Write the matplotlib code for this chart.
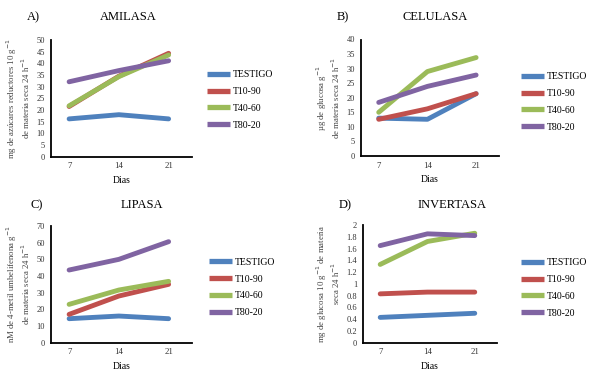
import matplotlib
matplotlib.use("Agg")
import matplotlib.pyplot as plt

plt.rcParams['font.family'] = ['Liberation Serif', 'DejaVu Serif']

days = ["7", "14", "21"]
series_names = ["TESTIGO", "T10-90", "T40-60", "T80-20"]
colors = ["#4F81BD", "#C0504D", "#9BBB59", "#8064A2"]

amilasa = {
    "TESTIGO": [16.2, 18.0, 16.2],
    "T10-90": [21.5, 34.5, 44.3],
    "T40-60": [21.8, 34.3, 43.6],
    "T80-20": [32.1, 36.9, 41.1],
}
celulasa = {
    "TESTIGO": [13.0, 12.6, 21.4],
    "T10-90": [12.6, 16.2, 21.4],
    "T40-60": [15.0, 29.0, 33.8],
    "T80-20": [18.4, 23.9, 27.8],
}
lipasa = {
    "TESTIGO": [14.4, 16.0, 14.4],
    "T10-90": [17.0, 28.0, 35.0],
    "T40-60": [23.0, 31.6, 36.8],
    "T80-20": [43.6, 50.0, 60.6],
}
invertasa = {
    "TESTIGO": [0.43, 0.465, 0.50],
    "T10-90": [0.83, 0.86, 0.86],
    "T40-60": [1.33, 1.72, 1.86],
    "T80-20": [1.65, 1.85, 1.82],
}

W, H = 594, 376
fig = plt.figure(figsize=(W / 100, H / 100), dpi=100)


def px_axes(left, top, right, bottom):
    return fig.add_axes([left / W, (H - bottom) / H, (right - left) / W, (bottom - top) / H])


panels = [
    dict(data=amilasa, box=(50.7, 40, 192, 156.7), ymax=50, step=5, fmt="{:g}",
         title="AMILASA", tx=128, ty=17, letter="A)", lx=33,
         ylabel="mg de azúcares reductores 10 g$^{-1}$\nde materia seca 24 h$^{-1}$",
         leg=(207, 100)),
    dict(data=celulasa, box=(360.7, 39.5, 499, 156), ymax=40, step=5, fmt="{:g}",
         title="CELULASA", tx=435, ty=17, letter="B)", lx=343,
         ylabel="µg de glucosa g$^{-1}$\nde materia seca 24 h$^{-1}$",
         leg=(521, 102)),
    dict(data=lipasa, box=(50.7, 226, 192, 342.7), ymax=70, step=10, fmt="{:g}",
         title="LIPASA", tx=142, ty=205, letter="C)", lx=37,
         ylabel="nM de 4-metil umbelifenona g$^{-1}$\nde materia seca 24 h$^{-1}$",
         leg=(209, 287.5)),
    dict(data=invertasa, box=(362.7, 225, 497, 342.7), ymax=2, step=0.2, fmt="{:g}",
         title="INVERTASA", tx=452, ty=205, letter="D)", lx=345,
         ylabel="mg de glucosa 10 g$^{-1}$ de materia\nseca 24 h$^{-1}$",
         leg=(521, 288)),
]

for p in panels:
    ax = px_axes(*p["box"])
    x = list(range(len(days)))
    for name, c in zip(series_names, colors):
        ax.plot(x, p["data"][name], color=c, lw=3.5, solid_capstyle='round',
                solid_joinstyle='round', label=name)
    ax.set_xlim(-0.37, 2.47)
    ax.set_ylim(0, p["ymax"])
    n = int(round(p["ymax"] / p["step"]))
    yt = [round(i * p["step"], 2) for i in range(n + 1)]
    ax.set_yticks(yt)
    ax.set_yticklabels([p["fmt"].format(v) for v in yt], fontsize=6, color="#333333")
    ax.set_xticks(x)
    ax.set_xticklabels(days, fontsize=6.3, color="#333333")
    ax.tick_params(length=0, pad=4)
    for s in ["top", "right"]:
        ax.spines[s].set_visible(False)
    for s in ["left", "bottom"]:
        ax.spines[s].set_linewidth(1.3)
        ax.spines[s].set_color("black")
    ax.set_xlabel("Dias", fontsize=7, labelpad=4)
    ax.set_ylabel(p["ylabel"], fontsize=6.3, color="#444444", labelpad=3, linespacing=1.1)
    fig.text(p["tx"] / W, 1 - p["ty"] / H, p["title"], ha="center", va="center", fontsize=9)
    fig.text(p["lx"] / W, 1 - p["ty"] / H, p["letter"], ha="center", va="center", fontsize=9)
    lx, ly = p["leg"]
    ax.legend(loc="center left", bbox_to_anchor=(lx / W, 1 - ly / H),
              bbox_transform=fig.transFigure, frameon=False, fontsize=7,
              handlelength=2.4, handletextpad=0.25, labelspacing=0.8,
              borderpad=0, borderaxespad=0)
    for line in ax.get_legend().get_lines():
        line.set_linewidth(3.8)
        line.set_solid_capstyle('butt')

fig.savefig("out.png", dpi=100)
